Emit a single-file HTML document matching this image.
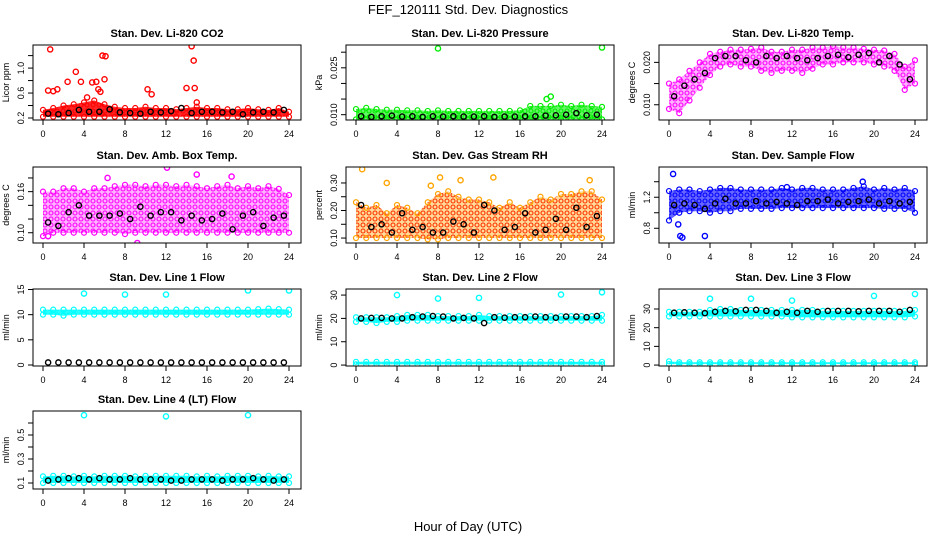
<!DOCTYPE html>
<html><head><meta charset="utf-8"><style>
body{margin:0;background:#fff;}
svg{display:block;font-family:"Liberation Sans",Arial,sans-serif;}
</style></head><body>
<svg id="chart" width="936" height="540" viewBox="0 0 936 540" xmlns="http://www.w3.org/2000/svg">
<text x="468" y="14" text-anchor="middle" font-size="13">FEF_120111  Std. Dev. Diagnostics</text>
<text x="468" y="531" text-anchor="middle" font-size="13">Hour of Day (UTC)</text>
</svg>
<script>
// ---- data (hourly band bounds at hours 0..24, black points at h+0.5) ----
const hours = [0,1,2,3,4,5,6,7,8,9,10,11,12,13,14,15,16,17,18,19,20,21,22,23,24];
const xTicks = [0,4,8,12,16,20,24];

const co2Lo = [0.22,0.22,0.22,0.22,0.22,0.22,0.22,0.22,0.22,0.22,0.22,0.22,0.22,0.22,0.22,0.22,0.22,0.22,0.22,0.22,0.22,0.22,0.22,0.22,0.22];
const co2Hi = [0.33,0.36,0.40,0.42,0.45,0.48,0.42,0.38,0.36,0.36,0.38,0.36,0.36,0.34,0.36,0.38,0.36,0.36,0.34,0.34,0.36,0.34,0.33,0.36,0.30];
const co2Black = [0.27,0.26,0.28,0.33,0.3,0.3,0.34,0.29,0.28,0.27,0.3,0.29,0.31,0.36,0.28,0.3,0.3,0.29,0.3,0.26,0.29,0.3,0.29,0.33];
const co2OutX = [0.5,0.7,1.0,1.4,2.4,3.2,3.7,4.3,4.8,5.2,5.4,5.6,5.8,6.0,6.1,10.2,10.6,14.0,14.5,14.7,14.8,15.0];
const co2OutY = [0.64,1.3,0.63,0.66,0.78,0.94,0.78,0.53,0.77,0.78,0.66,0.62,1.2,0.82,1.19,0.66,0.58,0.68,1.35,1.12,0.68,0.45];

const prLo = [0.0085,0.0085,0.0085,0.0085,0.0085,0.0085,0.0085,0.0085,0.0085,0.0085,0.0085,0.0085,0.0085,0.0085,0.0085,0.0085,0.0085,0.0085,0.0085,0.0085,0.0085,0.0085,0.0085,0.0085,0.0085];
const prHi = [0.0118,0.0122,0.0118,0.0116,0.0116,0.0114,0.0114,0.0112,0.0114,0.0112,0.0112,0.0112,0.0112,0.0112,0.0112,0.0112,0.0114,0.0128,0.0128,0.0128,0.0132,0.0128,0.0132,0.0128,0.0125];
const prBlack = [0.0095,0.0093,0.0095,0.0097,0.0094,0.0095,0.0093,0.0095,0.0094,0.0095,0.0094,0.0094,0.0095,0.0093,0.0094,0.0094,0.0095,0.0095,0.0097,0.0098,0.0100,0.0105,0.0098,0.0100];
const prOutX = [8.0,24.0,18.6,19.0];
const prOutY = [0.0312,0.0315,0.0150,0.0158];

const tmLo = [0.0090,0.0080,0.0110,0.0140,0.0170,0.0190,0.0195,0.0190,0.0190,0.0180,0.0175,0.0180,0.0180,0.0175,0.0185,0.0195,0.0195,0.0200,0.0200,0.0200,0.0195,0.0190,0.0180,0.0135,0.0150];
const tmHi = [0.0150,0.0160,0.0180,0.0200,0.0220,0.0225,0.0230,0.0230,0.0232,0.0235,0.0225,0.0225,0.0230,0.0230,0.0235,0.0235,0.0238,0.0235,0.0235,0.0232,0.0230,0.0228,0.0220,0.0190,0.0205];
const tmBlack = [0.0120,0.0145,0.0160,0.0175,0.0210,0.0215,0.0215,0.0205,0.0200,0.0215,0.0210,0.0215,0.0210,0.0205,0.0210,0.0215,0.0218,0.0212,0.0218,0.0222,0.0200,0.0215,0.0195,0.0160];

const abLo = [0.095,0.100,0.100,0.100,0.100,0.100,0.100,0.100,0.098,0.100,0.100,0.100,0.100,0.100,0.100,0.100,0.100,0.100,0.100,0.100,0.100,0.100,0.100,0.100,0.100];
const abHi = [0.160,0.160,0.165,0.165,0.160,0.165,0.165,0.168,0.170,0.170,0.168,0.170,0.170,0.168,0.170,0.168,0.165,0.168,0.170,0.165,0.168,0.165,0.168,0.164,0.155];
const abBlack = [0.115,0.110,0.130,0.140,0.125,0.125,0.125,0.128,0.120,0.138,0.125,0.130,0.130,0.118,0.125,0.118,0.120,0.128,0.105,0.125,0.130,0.110,0.122,0.125];
const abOutX = [0.5,9.2,12.1,15.0,6.3,18.4];
const abOutY = [0.095,0.085,0.195,0.185,0.180,0.182];

const rhLo = [0.100,0.100,0.100,0.100,0.100,0.100,0.100,0.095,0.095,0.100,0.100,0.100,0.100,0.100,0.100,0.100,0.100,0.100,0.100,0.100,0.100,0.100,0.100,0.100,0.100];
const rhHi = [0.230,0.210,0.220,0.190,0.220,0.210,0.190,0.230,0.260,0.270,0.250,0.240,0.240,0.230,0.210,0.230,0.210,0.230,0.250,0.240,0.260,0.260,0.270,0.270,0.240];
const rhBlack = [0.220,0.140,0.150,0.120,0.190,0.130,0.140,0.120,0.120,0.160,0.150,0.120,0.220,0.200,0.130,0.140,0.190,0.120,0.130,0.170,0.130,0.210,0.140,0.180];
const rhOutX = [0.6,3.0,7.3,8.2,10.2,13.4,22.8];
const rhOutY = [0.350,0.300,0.290,0.320,0.310,0.320,0.310];

const sfLo = [0.90,1.00,1.02,1.02,1.00,1.02,1.02,1.05,1.05,1.05,1.05,1.06,1.06,1.06,1.06,1.06,1.06,1.06,1.06,1.06,1.06,1.05,1.05,1.05,1.00];
const sfHi = [1.28,1.30,1.30,1.28,1.30,1.32,1.32,1.30,1.30,1.30,1.30,1.32,1.30,1.32,1.32,1.30,1.30,1.30,1.32,1.34,1.30,1.32,1.30,1.32,1.28];
const sfBlack = [1.10,1.12,1.10,1.05,1.12,1.18,1.12,1.12,1.15,1.12,1.14,1.12,1.10,1.15,1.15,1.17,1.12,1.14,1.15,1.17,1.12,1.15,1.12,1.14];
const sfOutX = [0.4,0.9,1.1,1.3,3.5,11.5,18.9];
const sfOutY = [1.50,0.85,0.70,0.68,0.70,1.33,1.40];

const l1Lo = [10.0,10.0,9.8,10.0,10.0,10.0,10.0,10.0,10.0,10.0,10.0,10.0,10.0,10.0,10.0,10.0,10.0,10.0,10.0,10.0,10.0,10.0,10.0,10.0,10.0];
const l1Hi = [11.0,11.0,11.0,11.0,11.0,11.0,11.0,11.0,11.0,11.0,11.0,11.0,11.0,11.0,11.0,11.0,11.0,11.0,11.0,11.0,11.0,11.1,11.2,11.1,11.0];
const l1Black = [0.5,0.5,0.5,0.5,0.5,0.5,0.5,0.5,0.5,0.5,0.5,0.5,0.5,0.5,0.5,0.5,0.5,0.5,0.5,0.5,0.5,0.5,0.5,0.5];
const l1OutX = [4,8,12,20,24];
const l1OutY = [14.2,14.0,14.0,14.8,14.8];

const l2Lo = [18.5,18.5,18.0,18.5,18.5,19.0,19.0,19.0,19.0,19.0,19.0,19.0,19.0,19.0,19.0,19.0,19.0,19.0,19.0,19.0,19.0,19.0,19.0,19.0,19.0];
const l2Hi = [20.5,20.5,20.5,20.5,21.0,21.5,21.5,21.5,21.0,21.0,21.0,21.0,21.5,21.0,21.0,21.0,21.0,21.0,21.0,21.0,21.0,21.0,21.0,21.0,21.5];
const l2Lo2 = [0.3,0.3,0.3,0.3,0.3,0.3,0.3,0.3,0.3,0.3,0.3,0.3,0.3,0.3,0.3,0.3,0.3,0.3,0.3,0.3,0.3,0.3,0.3,0.3,0.3];
const l2Hi2 = [1.4,1.4,1.4,1.4,1.4,1.4,1.4,1.4,1.4,1.4,1.4,1.4,1.4,1.4,1.4,1.4,1.4,1.4,1.4,1.4,1.4,1.4,1.4,1.4,1.4];
const l2Black = [20.0,20.2,20.2,20.0,20.0,20.5,20.8,21.0,20.8,20.0,20.2,20.0,18.0,20.5,20.3,20.5,20.5,20.8,20.5,20.3,20.8,20.8,20.5,21.0];
const l2OutX = [4,8,12,20,24];
const l2OutY = [30.0,28.5,28.8,30.2,31.2];

const l3Lo = [26.0,26.0,26.0,26.0,26.0,26.0,26.0,26.0,26.0,26.0,26.0,26.0,25.5,25.5,25.5,25.5,25.5,25.5,25.5,25.5,25.5,25.5,25.5,25.5,26.0];
const l3Hi = [28.5,28.5,28.5,28.5,29.5,30.0,30.0,29.5,29.5,29.5,29.5,29.5,29.5,29.5,29.5,29.0,29.0,29.0,29.0,29.0,29.0,29.0,29.0,29.0,29.5];
const l3Lo2 = [0.5,0.5,0.5,0.5,0.5,0.5,0.5,0.5,0.5,0.5,0.5,0.5,0.5,0.5,0.5,0.5,0.5,0.5,0.5,0.5,0.5,0.5,0.5,0.5,0.5];
const l3Hi2 = [2.0,1.5,1.5,1.5,1.5,1.5,1.5,1.5,1.5,1.5,1.5,1.5,1.5,1.5,1.5,1.5,1.5,1.5,1.5,1.5,1.5,1.5,1.5,1.5,1.5];
const l3Black = [28.0,28.2,28.0,27.8,28.5,29.0,28.8,29.5,29.5,29.0,28.0,28.5,28.0,29.0,28.5,29.0,29.0,29.0,28.8,29.0,29.0,29.0,28.5,29.5];
const l3OutX = [4,8,12,20,24];
const l3OutY = [35.5,35.5,34.5,37.0,38.0];

const l4Lo = [0.10,0.10,0.10,0.10,0.10,0.10,0.10,0.10,0.10,0.10,0.10,0.10,0.10,0.10,0.10,0.10,0.10,0.10,0.10,0.10,0.10,0.10,0.10,0.10,0.10];
const l4Hi = [0.155,0.16,0.16,0.155,0.16,0.155,0.16,0.16,0.16,0.155,0.16,0.16,0.16,0.16,0.16,0.155,0.16,0.155,0.16,0.16,0.16,0.155,0.16,0.155,0.155];
const l4Black = [0.12,0.13,0.14,0.14,0.13,0.14,0.13,0.13,0.14,0.13,0.13,0.13,0.12,0.12,0.13,0.13,0.13,0.12,0.13,0.13,0.14,0.13,0.12,0.13];
const l4OutX = [4,12,20];
const l4OutY = [0.665,0.655,0.665];

const NS = "http://www.w3.org/2000/svg";
const svg = document.getElementById('chart');
function mk(tag, attrs, parent){ const e=document.createElementNS(NS,tag); for(const k in attrs) e.setAttribute(k,attrs[k]); (parent||svg).appendChild(e); return e; }

const defs = mk('defs',{});
const colors = {red:'#ff0000',green:'#00ee00',magenta:'#ff00ff',orange:'#ffa500',blue:'#0000ff',cyan:'#00ffff'};
const bgOpacity = {red:0.85,green:0.6,magenta:0.3,orange:0.4,blue:0.6,cyan:0.85};
for(const c in colors){
  const p = mk('pattern',{id:'pat-'+c,width:6,height:6,patternUnits:'userSpaceOnUse'},defs);
  mk('rect',{x:0,y:0,width:6,height:6,fill:colors[c],opacity:bgOpacity[c]},p);
  mk('circle',{cx:3,cy:3,r:2,fill:'none',stroke:c==='orange'?'#ff3000':colors[c],'stroke-width':1.1},p);
}

const colX = [43,356,669];
const rowY = [[45,120],[167,243],[289,366],[411,489]];
const panels = [
 {name:'co2',title:'Stan. Dev. Li-820 CO2',ylab:'Licor ppm',c:0,r:0,ymin:0.168,ymax:1.37,ticks:[0.2,0.4,0.6,0.8,1.0,1.2],labels:['0.2','','0.6','','1.0',''],color:'red',bands:[[co2Lo,co2Hi]],black:co2Black,ox:co2OutX,oy:co2OutY},
 {name:'pressure',title:'Stan. Dev. Li-820 Pressure',ylab:'kPa',c:1,r:0,ymin:0.0083,ymax:0.0323,ticks:[0.010,0.015,0.020,0.025,0.030],labels:['0.010','','','0.025',''],color:'green',bands:[[prLo,prHi]],black:prBlack,ox:prOutX,oy:prOutY},
 {name:'li820-temp',title:'Stan. Dev. Li-820 Temp.',ylab:'degrees C',c:2,r:0,ymin:0.0064,ymax:0.0241,ticks:[0.010,0.015,0.020],labels:['0.010','','0.020'],color:'magenta',bands:[[tmLo,tmHi]],black:tmBlack,ox:[],oy:[]},
 {name:'amb-box-temp',title:'Stan. Dev. Amb. Box Temp.',ylab:'degrees C',c:0,r:1,ymin:0.085,ymax:0.196,ticks:[0.10,0.12,0.14,0.16,0.18],labels:['0.10','','','0.16',''],color:'magenta',bands:[[abLo,abHi]],black:abBlack,ox:abOutX,oy:abOutY},
 {name:'gas-stream-rh',title:'Stan. Dev. Gas Stream RH',ylab:'percent',c:1,r:1,ymin:0.082,ymax:0.358,ticks:[0.10,0.15,0.20,0.25,0.30],labels:['0.10','','0.20','','0.30'],color:'orange',bands:[[rhLo,rhHi]],black:rhBlack,ox:rhOutX,oy:rhOutY},
 {name:'sample-flow',title:'Stan. Dev. Sample Flow',ylab:'ml/min',c:2,r:1,ymin:0.61,ymax:1.59,ticks:[0.8,1.0,1.2,1.4],labels:['0.8','','1.2',''],color:'blue',bands:[[sfLo,sfHi]],black:sfBlack,ox:sfOutX,oy:sfOutY},
 {name:'line1-flow',title:'Stan. Dev. Line 1 Flow',ylab:'ml/min',c:0,r:2,ymin:-0.2,ymax:15.1,ticks:[0,5,10,15],labels:['0','5','10','15'],color:'cyan',bands:[[l1Lo,l1Hi]],black:l1Black,ox:l1OutX,oy:l1OutY},
 {name:'line2-flow',title:'Stan. Dev. Line 2 Flow',ylab:'ml/min',c:1,r:2,ymin:-0.4,ymax:32.6,ticks:[0,10,20,30],labels:['0','10','20','30'],color:'cyan',bands:[[l2Lo,l2Hi],[l2Lo2,l2Hi2]],black:l2Black,ox:l2OutX,oy:l2OutY},
 {name:'line3-flow',title:'Stan. Dev. Line 3 Flow',ylab:'ml/min',c:2,r:2,ymin:-0.5,ymax:40.7,ticks:[0,10,20,30],labels:['0','10','20','30'],color:'cyan',bands:[[l3Lo,l3Hi],[l3Lo2,l3Hi2]],black:l3Black,ox:l3OutX,oy:l3OutY},
 {name:'line4-flow',title:'Stan. Dev. Line 4 (LT) Flow',ylab:'ml/min',c:0,r:3,ymin:0.05,ymax:0.70,ticks:[0.1,0.2,0.3,0.4,0.5,0.6],labels:['0.1','','0.3','','0.5',''],color:'cyan',bands:[[l4Lo,l4Hi]],black:l4Black,ox:l4OutX,oy:l4OutY}
];

panels.forEach(p=>{
  const x0 = colX[p.c], top = rowY[p.r][0], bot = rowY[p.r][1];
  const left = x0-10, right = x0+258;
  const xs = h => x0 + h/24*246;
  const ys = v => bot - (v-p.ymin)/(p.ymax-p.ymin)*(bot-top);
  const g = mk('g',{});
  
  
  const t = mk('text',{x:(left+right)/2,y:top-8,'text-anchor':'middle','font-size':11,'font-weight':'bold'},g);
  t.textContent = p.title;
  
  
  const clip = mk('clipPath',{id:'clip-'+p.name},defs);
  mk('rect',{x:left,y:top,width:right-left,height:bot-top},clip);
  const pg = mk('g',{'clip-path':'url(#clip-'+p.name+')'},g);
  p.bands.forEach(b=>{
    const lo=b[0], hi=b[1];
    let d='';
    hours.forEach((h,i)=>{ d += (i?'L':'M')+xs(h).toFixed(1)+','+ys(hi[i]).toFixed(1); });
    for(let i=hours.length-1;i>=0;i--){ d += 'L'+xs(hours[i]).toFixed(1)+','+ys(lo[i]).toFixed(1); }
    const band = mk('path',{d:d+'Z',fill:'url(#pat-'+p.color+')',stroke:'none'},pg);
    
    
    hours.forEach((h,i)=>{
      const c1 = mk('circle',{cx:xs(h),cy:ys(hi[i]),r:2.5,fill:'none',stroke:colors[p.color],'stroke-width':1.2},pg);
      
      
      const c2 = mk('circle',{cx:xs(h),cy:ys(lo[i]),r:2.5,fill:'none',stroke:colors[p.color],'stroke-width':1.2},pg);
      
      
    });
  });
  p.ox.forEach((xv,i)=>{
    const c = mk('circle',{cx:xs(xv),cy:ys(p.oy[i]),r:2.6,fill:'none',stroke:colors[p.color],'stroke-width':1.4},pg);
    
    
  });
  p.black.forEach((v,i)=>{
    const c = mk('circle',{cx:xs(i+0.5),cy:ys(v),r:2.6,fill:'none',stroke:'#000','stroke-width':1.4},pg);
    
    
  });
  const box = mk('rect',{x:left,y:top,width:right-left,height:bot-top,fill:'none',stroke:'#000','stroke-width':1},g);
  
  
  const xa = mk('g',{},g);
  
  
  xTicks.forEach(h=>{
    mk('line',{x1:xs(h),x2:xs(h),y1:bot,y2:bot+5,stroke:'#000'},xa);
    const tl = mk('text',{x:xs(h),y:bot+17,'text-anchor':'middle','font-size':9},xa);
    tl.textContent = h;
  });
  const ya = mk('g',{},g);
  
  
  p.ticks.forEach((v,i)=>{
    mk('line',{x1:left,x2:left-5,y1:ys(v),y2:ys(v),stroke:'#000'},ya);
    if(p.labels[i]){
      const tl = mk('text',{x:left-9,y:ys(v),'text-anchor':'middle','font-size':9,transform:'rotate(-90 '+(left-9)+' '+ys(v)+')'},ya);
      tl.textContent = p.labels[i];
    }
  });
  const yl = mk('text',{x:left-24,y:(top+bot)/2,'text-anchor':'middle','font-size':9,transform:'rotate(-90 '+(left-24)+' '+(top+bot)/2+')'},g);
  yl.textContent = p.ylab;
  
  
});
</script>
</body></html>
